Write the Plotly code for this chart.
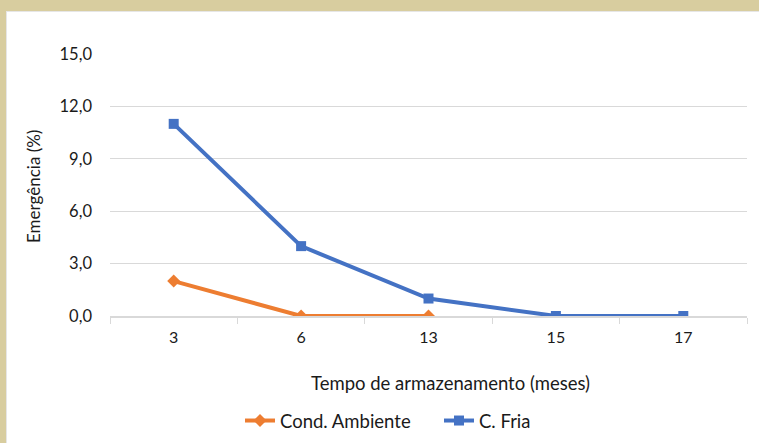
import plotly.graph_objects as go

categories = ["3", "6", "13", "15", "17"]
amb_x = ["3", "6", "13"]
amb_vals = [2.0, 0.0, 0.0]
fria_vals = [11.0, 4.0, 1.0, 0.0, 0.0]
y_ticks = [0, 3, 6, 9, 12, 15]

W, H = 759, 443
L, R, T, B = 110, 12, 54, 127
pw, ph = W - L - R, H - T - B

def px(x):
    return (x - L) / pw

def py(y):
    return (H - B - y) / ph

FONT = "Lato"
beige = "#D8CD9F"

fig = go.Figure()
fig.add_trace(go.Scatter(
    x=amb_x, y=amb_vals, name="Cond. Ambiente", mode="lines+markers",
    line=dict(color="#ED7D31", width=4),
    marker=dict(symbol="diamond", size=10, color="#ED7D31"),
    legend="legend",
))
fig.add_trace(go.Scatter(
    x=categories, y=fria_vals, name="C. Fria", mode="lines+markers",
    line=dict(color="#4472C4", width=4),
    marker=dict(symbol="square", size=10, color="#4472C4"),
    legend="legend2",
))

leg_common = dict(orientation="h", yanchor="middle", xanchor="left",
                  font=dict(size=18.5), bgcolor="rgba(0,0,0,0)")

fig.update_layout(
    width=W, height=H,
    margin=dict(l=L, r=R, t=T, b=B, autoexpand=False),
    paper_bgcolor="white", plot_bgcolor="white",
    font=dict(family=FONT, size=16, color="#1a1a1a"),
    separators=",.",
    showlegend=True,
    legend=dict(x=px(240), y=py(421), **leg_common),
    legend2=dict(x=px(439), y=py(421), **leg_common),
    xaxis=dict(
        type="category", categoryorder="array", categoryarray=categories,
        range=[-0.5, 4.5], showgrid=False, showline=True, linecolor="#D9D9D9", linewidth=1.5,
        ticks="outside", tickson="boundaries", ticklen=6, tickcolor="#D9D9D9",
        ticklabelstandoff=6, tickfont=dict(size=16), zeroline=False,
    ),
    yaxis=dict(
        range=[0, 15], tickvals=y_ticks, tickformat=".1f", showgrid=True,
        gridcolor="#D9D9D9", gridwidth=1.2, zeroline=False, showline=False,
        ticklabelstandoff=17, tickfont=dict(size=16.5),
    ),
    shapes=[
        dict(type="rect", xref="paper", yref="paper", x0=px(0), x1=px(W), y0=py(12), y1=py(0),
             fillcolor="#E6E6E6", line=dict(width=0), layer="above"),
        dict(type="rect", xref="paper", yref="paper", x0=px(0), x1=px(7), y0=py(H), y1=py(0),
             fillcolor="#E6E6E6", line=dict(width=0), layer="above"),
        dict(type="rect", xref="paper", yref="paper", x0=px(0), x1=px(W), y0=py(11), y1=py(0),
             fillcolor=beige, line=dict(width=0), layer="above"),
        dict(type="rect", xref="paper", yref="paper", x0=px(0), x1=px(6), y0=py(H), y1=py(0),
             fillcolor=beige, line=dict(width=0), layer="above"),
    ],
    annotations=[
        dict(text="Tempo de armazenamento (meses)", xref="paper", yref="paper",
             x=px(451), y=py(383), xanchor="center", yanchor="middle", showarrow=False,
             font=dict(size=18.5)),
        dict(text="Emergência (%)", xref="paper", yref="paper", textangle=-90,
             x=px(33), y=py(187), xanchor="center", yanchor="middle", showarrow=False,
             font=dict(size=17)),
    ],
)

fig.write_html(
    "out.html",
    config={"displayModeBar": False},
    post_script=(
        "document.documentElement.style.margin='0';"
        "document.documentElement.style.overflow='hidden';"
        "document.body.style.margin='0';document.body.style.padding='0';"
        "document.body.style.overflow='hidden';"
    ),
)
